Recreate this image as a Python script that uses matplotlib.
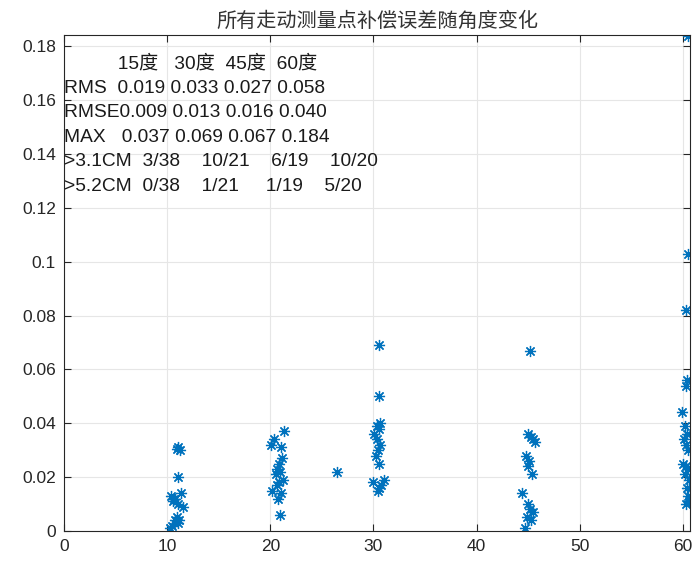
import numpy as np
import matplotlib
matplotlib.use('Agg')
import matplotlib.pyplot as plt

plt.rcParams['font.family'] = ['Liberation Sans', 'Noto Sans CJK SC', 'DejaVu Sans']

# Compensation error (m) of each measured point, grouped by angle setting
x_15 = [11.0, 11.2, 10.9, 11.0, 10.4, 10.8, 11.3, 10.6, 11.0, 11.5, 10.7, 10.9, 11.1, 10.8, 11.0, 10.5, 10.3]
y_15 = [0.031, 0.030, 0.0305, 0.020, 0.013, 0.012, 0.014, 0.011, 0.010, 0.009, 0.012, 0.005, 0.004, 0.004, 0.003, 0.002, 0.001]

x_30 = [21.3, 20.4, 20.1, 21.0, 21.1, 20.8, 20.6, 20.9, 20.5, 21.2, 20.8, 20.6, 20.2, 21.0, 20.7, 20.9, 26.5]
y_30 = [0.037, 0.034, 0.032, 0.031, 0.027, 0.025, 0.023, 0.022, 0.021, 0.019, 0.018, 0.017, 0.015, 0.014, 0.012, 0.006, 0.022]

x_45 = [30.5, 30.5, 30.6, 30.3, 30.5, 30.1, 30.3, 30.6, 30.4, 30.2, 30.5, 30.0, 31.0, 30.5, 30.4, 30.7]
y_45 = [0.069, 0.050, 0.040, 0.039, 0.038, 0.036, 0.034, 0.032, 0.030, 0.028, 0.025, 0.018, 0.019, 0.016, 0.015, 0.017]

x_50 = [45.2, 45.0, 45.3, 45.5, 45.7, 44.8, 45.1, 45.0, 45.4, 44.4, 45.0, 45.2, 45.5, 44.9, 45.3, 44.7]
y_50 = [0.067, 0.036, 0.035, 0.034, 0.033, 0.028, 0.026, 0.024, 0.021, 0.014, 0.010, 0.008, 0.007, 0.005, 0.004, 0.001]

x_60 = [60.5, 60.5, 60.3, 60.4, 60.3, 59.9, 60.2, 60.4, 60.1, 60.3, 60.5, 60.0, 60.3, 60.5, 60.2, 60.6, 60.4, 60.5, 60.6, 60.3]
y_60 = [0.184, 0.103, 0.082, 0.056, 0.054, 0.044, 0.039, 0.036, 0.034, 0.032, 0.030, 0.025, 0.024, 0.023, 0.021, 0.019, 0.016, 0.013, 0.011, 0.010]

x_ticks = [0, 10, 20, 30, 40, 50, 60]
y_ticks = [0, 0.02, 0.04, 0.06, 0.08, 0.1, 0.12, 0.14, 0.16, 0.18]
y_tick_labels = ['0', '0.02', '0.04', '0.06', '0.08', '0.1', '0.12', '0.14', '0.16', '0.18']

title = '所有走动测量点补偿误差随角度变化'
stats_lines = [
    '          15度   30度  45度  60度',
    'RMS  0.019 0.033 0.027 0.058',
    'RMSE0.009 0.013 0.016 0.040',
    'MAX   0.037 0.069 0.067 0.184',
    '>3.1CM  3/38    10/21    6/19    10/20',
    '>5.2CM  0/38    1/21     1/19    5/20',
]

blue = '#0072BD'
axc = '#262626'

fig = plt.figure(figsize=(6.97, 5.63), dpi=100)
ax = fig.add_axes([0.092, 0.057, 0.898, 0.881])

all_x = x_15 + x_30 + x_45 + x_50 + x_60
all_y = y_15 + y_30 + y_45 + y_50 + y_60
ax.plot(all_x, all_y, linestyle='none', marker=(8, 2, 0), color=blue,
        markersize=8, markeredgewidth=0.9)

ax.set_xlim(0, 60.7)
ax.set_ylim(0, 0.1843)
ax.set_xticks(x_ticks)
ax.set_yticks(y_ticks)
ax.set_yticklabels(y_tick_labels)
ax.grid(True, color='#e6e6e6', linewidth=0.8)
ax.set_axisbelow(True)
ax.tick_params(direction='in', top=True, right=True, length=5,
               labelsize=12.5, colors=axc, pad=6)
for sp in ax.spines.values():
    sp.set_color(axc)
    sp.set_linewidth(0.8)

ax.set_title(title, fontsize=14.5, color='#333333', pad=6)

for i, line in enumerate(stats_lines):
    ax.text(0.0, 0.1737 - 0.00913 * i, line, fontsize=13.8, color='#1a1a1a',
            ha='left', va='center', transform=ax.transData)

fig.savefig('out.png', dpi=100)
